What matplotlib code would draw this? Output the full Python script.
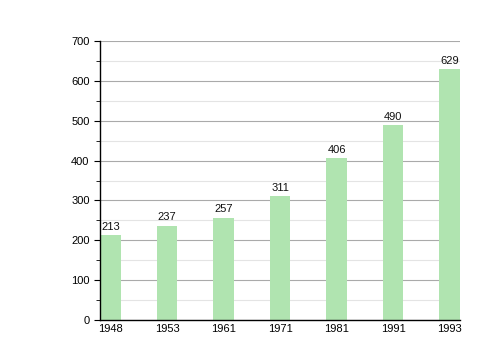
import numpy as np
import matplotlib
matplotlib.use('Agg')
import matplotlib.pyplot as plt
from matplotlib.ticker import MultipleLocator

plt.rcParams['font.family'] = ['Liberation Sans', 'DejaVu Sans']

#%% Data
years = ['1948', '1953', '1961', '1971', '1981', '1991', '1993']
population = [213, 237, 257, 311, 406, 490, 629]

#%% Plot
fig = plt.figure(figsize=(5, 3.6), dpi=100)
ax = fig.add_axes([0.2, 0.111, 0.72, 0.775])

x = np.arange(len(years))
bw = 0.37
bars = ax.bar(x, population, width=bw, color='#b0e4b0', zorder=2)

for xi, v in zip(x, population):
    ax.text(xi, v + 8, str(v), ha='center', va='bottom', fontsize=8, color='#111111')

ax.set_xlim(-bw / 2, len(years) - 1 + bw / 2)
ax.set_ylim(0, 700)
ax.set_xticks(x)
ax.set_xticklabels(years)
ax.yaxis.set_major_locator(MultipleLocator(100))
ax.yaxis.set_minor_locator(MultipleLocator(50))

ax.grid(axis='y', which='major', color='#aaaaaa', linewidth=0.8, zorder=0)
ax.grid(axis='y', which='minor', color='#e4e4e4', linewidth=0.8, zorder=0)

for s in ['top', 'right']:
    ax.spines[s].set_visible(False)
ax.spines['left'].set_linewidth(1.0)
ax.spines['bottom'].set_linewidth(1.0)

ax.tick_params(axis='y', which='both', labelsize=8, length=4, direction='out')
ax.tick_params(axis='y', which='minor', length=3)
ax.tick_params(axis='x', length=0, labelsize=8, pad=3)

fig.savefig('out.png', dpi=100)
